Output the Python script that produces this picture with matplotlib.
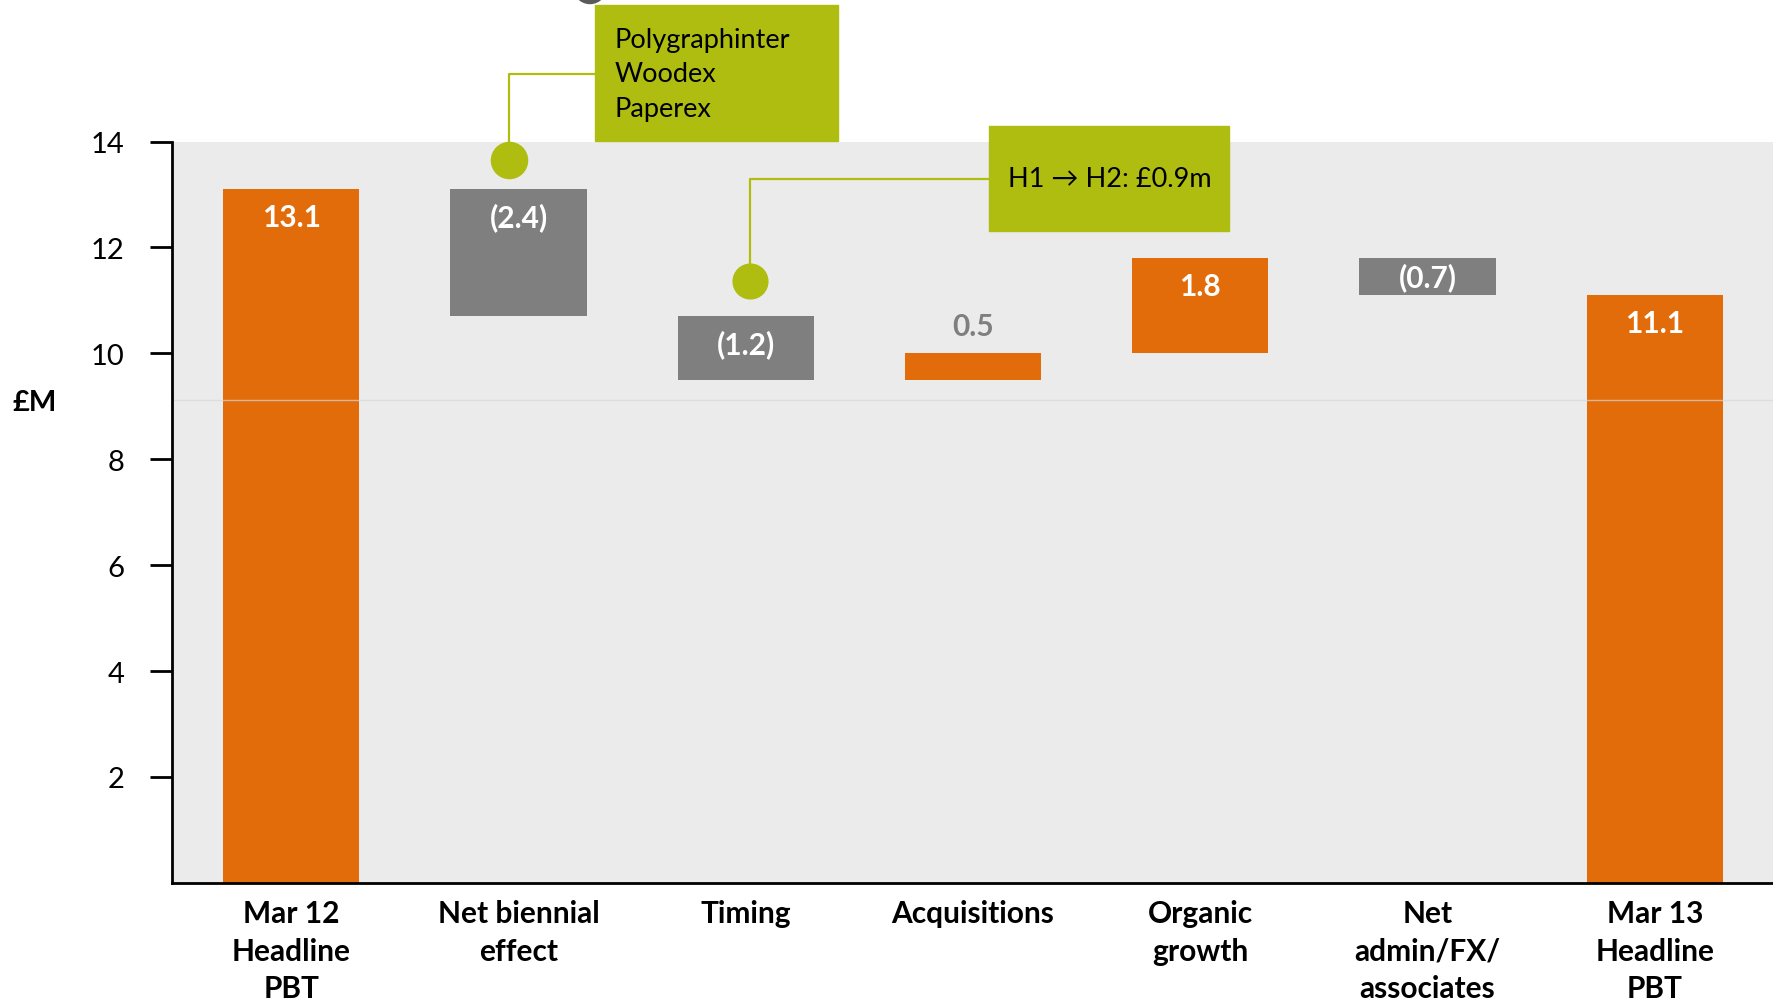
import matplotlib.pyplot as plt
from matplotlib.patches import Rectangle, Ellipse

plt.rcParams['font.family'] = ['Lato', 'DejaVu Sans']

labels = ["Mar 12\nHeadline\nPBT", "Net biennial\neffect", "Timing", "Acquisitions",
          "Organic\ngrowth", "Net\nadmin/FX/\nassociates", "Mar 13\nHeadline\nPBT"]
steps = [13.1, -2.4, -1.2, 0.5, 1.8, -0.7, 11.1]
is_total = [True, False, False, False, False, False, True]
bar_text = ["13.1", "(2.4)", "(1.2)", "0.5", "1.8", "(0.7)", "11.1"]
yticks = [2, 4, 6, 8, 10, 12, 14]

orange = "#E36C0A"
grey = "#7F7F7F"
green = "#AEBD10"

fig = plt.figure(figsize=(17.73, 10.04), dpi=100)
ax = fig.add_axes([0.097, 0.1197, 0.903, 0.7383])
ax.set_facecolor("#EBEBEB")

# waterfall: work out bottoms from the running total
running = 0
for i in range(len(steps)):
    if is_total[i]:
        bottom = 0
        height = steps[i]
        running = steps[i]
    else:
        bottom = running if steps[i] > 0 else running + steps[i]
        height = abs(steps[i])
        running = running + steps[i]
    col = orange if steps[i] > 0 else grey
    ax.bar(i, height, bottom=bottom, width=0.6, color=col, zorder=2)
    top = bottom + height
    if height >= 1:
        ax.text(i, top - 0.52, bar_text[i], color="white", fontsize=21.5, fontweight="bold",
                ha="center", va="center", zorder=4)
    elif steps[i] > 0:
        ax.text(i, top + 0.52, bar_text[i], color=grey, fontsize=21.5, fontweight="bold",
                ha="center", va="center", zorder=4)
    else:
        ax.text(i, bottom + height / 2, bar_text[i], color="white", fontsize=21.5,
                fontweight="bold", ha="center", va="center", zorder=4)

# faint line across the plot
ax.axhline(9.12, color="#D8D8D8", lw=1, alpha=0.7, zorder=3)

ax.set_xlim(-0.525, 6.52)
ax.set_ylim(0, 14)
ax.set_yticks(yticks)
ax.set_yticklabels([str(t) for t in yticks], fontsize=21)
ax.tick_params(axis="y", length=16, width=2, pad=18)
ax.set_xticks(range(len(labels)))
ax.set_xticklabels(labels, fontsize=21.5, fontweight="bold", linespacing=1.4, va="top")
ax.tick_params(axis="x", length=0, pad=12)
for s in ["top", "right"]:
    ax.spines[s].set_visible(False)
for s in ["left", "bottom"]:
    ax.spines[s].set_linewidth(2)
    ax.spines[s].set_zorder(5)

fig.text(0.007, 0.599, "£M", fontsize=21, fontweight="bold", va="center", ha="left")

# callout 1
ax.add_patch(Rectangle((1.337, 14.02), 1.07, 2.56, color=green, clip_on=False, zorder=6))
ax.text(1.422, 15.28, "Polygraphinter\nWoodex\nPaperex", fontsize=19.5, va="center",
        ha="left", linespacing=1.47, zorder=7, clip_on=False)
ax.plot([0.96, 0.96, 1.337], [13.66, 15.28, 15.28], color=green, lw=1.6,
        clip_on=False, zorder=6)
ax.plot(0.96, 13.66, "o", color=green, markersize=26, clip_on=False, zorder=6)

# callout 2
ax.add_patch(Rectangle((3.068, 12.31), 1.06, 1.99, color=green, clip_on=False, zorder=6))
ax.text(3.153, 13.30, "H1 → H2: £0.9m", fontsize=19.5, va="center", ha="left",
        zorder=7, clip_on=False)
ax.plot([2.019, 2.019, 3.068], [11.37, 13.30, 13.30], color=green, lw=1.6,
        clip_on=False, zorder=6)
ax.plot(2.019, 11.37, "o", color=green, markersize=25, clip_on=False, zorder=6)

# piece of a dark shape cut off at the top
fig.patches.append(Ellipse((590 / 1773, 1 + 15.5 / 1004), 36 / 1773, 40 / 1004,
                           color="#595959", transform=fig.transFigure, figure=fig))

fig.savefig("out.png", dpi=100)
